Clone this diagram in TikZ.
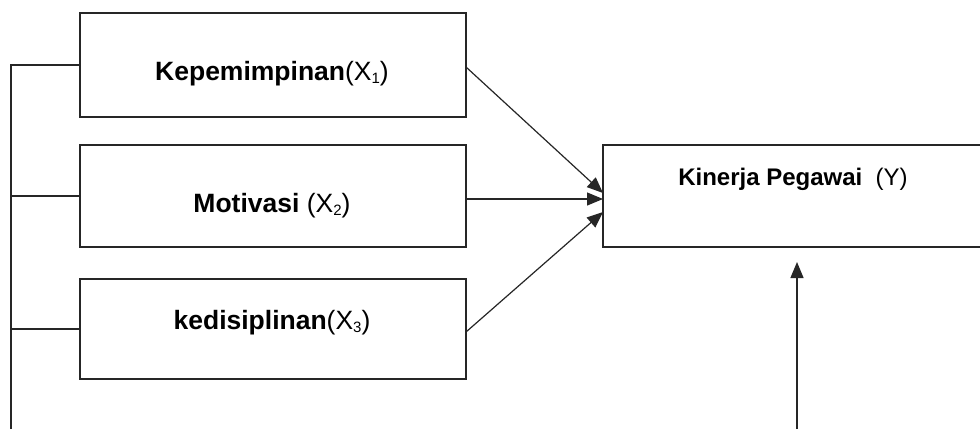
\documentclass[tikz,border=0pt]{standalone}
\usepackage{fontspec}
\setmainfont{Liberation Sans}
\usetikzlibrary{arrows.meta}
\newcommand{\lowsub}[1]{\raisebox{-0.12em}{\fontsize{15}{16}\selectfont #1}}
\begin{document}
\begin{tikzpicture}[x=1pt,y=-1pt,
  box/.style={draw=black!85, line width=1.3pt, inner sep=0pt, outer sep=0pt},
  lbl/.style={anchor=base, inner sep=0pt, font=\fontsize{26.5}{30}\selectfont},
  conn/.style={draw=black!85, line width=1.2pt},
  arr/.style={conn, -{Triangle[length=16pt,width=13pt]}}]
\useasboundingbox (0,0) rectangle (980,429);
\fill[white] (0,0) rectangle (980,429);
% boxes
\node[box, minimum width=386pt, minimum height=104pt] (k) at (273,65) {};
\node[box, minimum width=386pt, minimum height=102pt] (m) at (273,196) {};
\node[box, minimum width=386pt, minimum height=100pt] (d) at (273,329) {};
\node[box, minimum width=381pt, minimum height=102pt] (y) at (793.5,196) {};
% texts
\node[lbl] (tk) at (272,80) {\textbf{Kepemimpinan}(X\lowsub{1})};
\node[lbl] (tm) at (272,212) {\textbf{Motivasi} (X\lowsub{2})};
\node[lbl] (td) at (272,329) {\textbf{kedisiplinan}(X\lowsub{3})};
\node[lbl, font=\fontsize{24}{28}\selectfont] (ty) at (793,185) {\textbf{Kinerja Pegawai}\ \ (Y)};
% left bracket line
\coordinate (lt) at (11,65);
\coordinate (lb) at (11,429);
\draw[conn] (lb) -- (lt) -- (k.west);
\draw[conn] (m.west -| lt) -- (m.west);
\draw[conn] (d.west -| lt) -- (d.west);
% arrows to Y
\draw[arr] ([yshift=-2pt]k.east) -- ([yshift=3pt]y.west);
\draw[arr] ([yshift=-3pt]m.east) -- ([yshift=-3pt]m.east -| y.west);
\draw[arr] ([yshift=-3pt]d.east) -- ([yshift=-16pt]y.west);
% bottom arrow
\coordinate (bb) at (797,429);
\coordinate (bt) at (797,262);
\draw[arr] (bb) -- (bt);
\end{tikzpicture}
\end{document}
